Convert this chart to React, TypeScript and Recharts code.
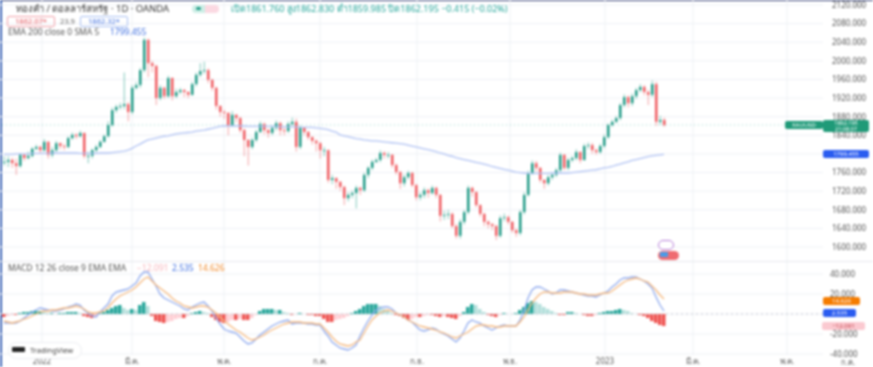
import React from 'react';
import {
    ComposedChart,
    Bar,
    Line,
    Cell,
    XAxis,
    YAxis,
    CartesianGrid,
    ReferenceLine
} from 'recharts';

const closes = [
    1783,1787,1780,1774,1798,1791,1796,1811,1815,1808,1826,1798,1808,1823,1817,1815,1834,1841,1838,1845,
    1796,1796,1808,1815,1826,1838,1862,1894,1901,1903,1907,1890,1942,1948,1980,2045,1995,1989,1920,1942,
    1924,1963,1924,1933,1937,1933,1927,1950,1970,1978,1980,1959,1942,1903,1890,1888,1862,1884,1877,1851,
    1830,1815,1830,1847,1864,1851,1845,1856,1866,1851,1849,1864,1869,1815,1856,1847,1836,1828,1823,1808,
    1808,1744,1748,1740,1729,1705,1712,1716,1727,1722,1755,1770,1783,1787,1802,1798,1798,1776,1761,1737,
    1750,1759,1733,1707,1712,1722,1716,1727,1712,1667,1669,1671,1645,1624,1654,1675,1727,1718,1690,1671,
    1654,1649,1645,1624,1662,1664,1654,1636,1630,1675,1712,1759,1780,1770,1744,1737,1750,1755,1765,1798,
    1770,1787,1791,1804,1787,1817,1819,1808,1804,1817,1836,1862,1869,1877,1905,1922,1909,1924,1937,1944,
    1933,1927,1950,1869,1873,1862
];
const highs = [
    1795,1795,1792,1790,1802,1800,1805,1815,1820,1818,1832,1828,1815,1828,1825,1822,1838,1846,1845,1850,
    1846,1805,1812,1820,1830,1842,1870,1900,1906,1910,1975,1912,1948,1955,1985,2050,2048,2000,1992,1948,
    1945,1968,1965,1940,1942,1940,1935,1955,1975,1995,1998,1984,1962,1945,1905,1895,1890,1892,1886,1880,
    1855,1832,1835,1852,1870,1868,1855,1862,1872,1870,1858,1870,1878,1876,1862,1858,1850,1838,1832,1826,
    1815,1810,1755,1750,1742,1732,1718,1722,1732,1730,1760,1774,1788,1792,1808,1806,1804,1800,1780,1764,
    1756,1764,1762,1736,1718,1728,1726,1732,1730,1714,1678,1680,1675,1650,1660,1680,1732,1730,1720,1692,
    1674,1658,1652,1648,1668,1672,1668,1656,1640,1680,1718,1764,1786,1785,1772,1746,1755,1760,1770,1803,
    1800,1792,1796,1810,1806,1822,1825,1824,1812,1822,1842,1866,1874,1882,1910,1928,1926,1930,1942,1950,
    1948,1938,1958,1955,1882,1878
];
const lows = [
    1775,1772,1770,1755,1770,1785,1788,1792,1808,1800,1804,1790,1792,1804,1810,1808,1812,1830,1832,1835,
    1790,1780,1790,1803,1812,1824,1835,1858,1888,1895,1896,1870,1885,1938,1942,1975,1965,1975,1905,1915,
    1918,1920,1915,1920,1928,1922,1920,1925,1945,1965,1972,1952,1935,1895,1880,1875,1840,1858,1868,1845,
    1795,1775,1810,1825,1845,1842,1835,1840,1850,1840,1840,1845,1860,1805,1810,1840,1830,1820,1805,1790,
    1795,1738,1735,1725,1720,1690,1698,1705,1683,1712,1718,1748,1765,1780,1782,1790,1790,1770,1755,1725,
    1730,1745,1728,1700,1700,1705,1706,1712,1705,1655,1658,1660,1640,1618,1618,1648,1670,1708,1685,1665,
    1645,1640,1636,1615,1620,1655,1648,1630,1622,1625,1670,1708,1755,1762,1738,1725,1732,1744,1750,1760,
    1765,1765,1782,1786,1780,1785,1810,1800,1798,1800,1812,1832,1858,1866,1872,1900,1900,1903,1918,1932,
    1926,1905,1922,1860,1862,1858
];
const ema200 = [
    1799,1799,1799,1800,1800,1800,1800,1801,1801,1801,1801,1801,1802,1802,1802,1802,1802,1802,1802,1801,
    1801,1801,1801,1801,1802,1802,1802,1803,1804,1805,1806,1808,1812,1817,1821,1826,1830,1832,1834,1836,
    1838,1839,1841,1843,1844,1845,1846,1847,1849,1850,1851,1853,1855,1857,1859,1860,1860,1860,1860,1860,
    1860,1859,1859,1859,1859,1859,1859,1859,1859,1858,1858,1858,1858,1858,1857,1857,1857,1857,1856,1855,
    1854,1852,1849,1847,1841,1839,1837,1835,1833,1832,1830,1829,1828,1828,1827,1826,1825,1824,1823,1822,
    1821,1819,1817,1815,1813,1811,1809,1807,1805,1802,1800,1797,1795,1792,1790,1788,1786,1784,1782,1780,
    1778,1776,1773,1771,1769,1767,1765,1763,1761,1760,1759,1758,1758,1758,1758,1758,1758,1759,1759,1759,
    1759,1759,1760,1761,1762,1763,1764,1765,1766,1768,1770,1771,1773,1776,1778,1781,1783,1786,1788,1790,
    1792,1794,1796,1797,1798,1799
];
const macdLine = [
    -9,-9,-9,-9,-7,-4,-1,2,4,6,5,4,3,3,4,5,7,8,10,9,
    4,1,-2,-3,2,6,10,18,22,23,24,25,28,31,38,42,42,35,28,20,
    16,14,12,10,8,5,4,7,9,11,12,8,3,-4,-10,-15,-17,-18,-19,-23,
    -27,-30,-29,-25,-21,-18,-15,-12,-10,-8,-7,-6,-10,-9,-9,-9,-10,-10,-11,-11,
    -17,-22,-28,-31,-34,-35,-36,-34,-31,-22,-14,-7,-1,4,6,7,7,5,1,-1,
    -3,-6,-8,-12,-16,-17,-16,-14,-15,-18,-20,-22,-25,-28,-24,-17,-9,-6,-8,-9,
    -12,-14,-16,-14,-12,-11,-12,-12,-12,-6,3,16,24,27,27,25,23,20,21,24,
    24,23,22,21,20,19,18,18,17,19,21,23,27,30,34,36,36,37,37,35,
    33,30,26,17,9,3
];
const signalLine = [
    -7,-8,-9,-8,-7,-5,-4,-2,0,2,3,3,4,4,5,6,6,7,8,7,
    5,2,1,1,2,3,6,11,15,18,20,22,24,27,31,35,37,33,29,26,
    23,20,16,13,11,8,7,6,7,8,8,7,4,1,-3,-7,-10,-13,-16,-18,
    -21,-24,-26,-25,-23,-21,-18,-16,-14,-12,-10,-9,-8,-8,-8,-9,-9,-9,-10,-10,
    -14,-18,-23,-27,-30,-31,-32,-31,-28,-26,-19,-12,-6,-2,1,3,4,3,1,-1,
    -3,-6,-8,-10,-12,-13,-14,-15,-16,-18,-19,-21,-23,-24,-22,-20,-18,-15,-12,-11,
    -11,-12,-12,-13,-13,-12,-12,-12,-12,-8,-3,4,11,16,20,22,22,21,21,21,
    22,22,22,21,20,20,19,19,19,20,21,21,23,26,29,32,34,35,36,35,
    33,32,28,24,19,15
];
const histValues = [
    -3,-2,-1,-1,1,2,2,3,3,3,2,1,1,0,1,1,2,2,2,1,
    -2,-3,-4,-3,1,2,4,6,8,9,6,4,5,4,9,12,8,-2,-7,-8,
    -9,-8,-7,-5,-4,-4,-2,1,2,3,2,1,-3,-6,-8,-9,-8,-6,-6,-5,
    -6,-6,-4,-1,3,5,5,5,4,4,2,1,-1,0,1,0,-1,-1,-2,-2,
    -5,-8,-8,-6,-5,-4,-2,1,3,5,8,10,10,10,8,5,3,1,-1,-2,
    -4,-6,-5,-3,-3,-2,-1,-1,-2,-3,-2,-3,-4,-5,-2,2,7,10,9,5,
    2,-1,-2,-3,-1,1,0,0,1,4,7,11,13,12,10,7,5,3,1,-1,
    -1,2,2,1,0,-1,-2,-2,-1,1,2,3,3,4,5,4,3,1,0,-1,
    -2,-4,-7,-9,-11,-12
];

const priceGrid = [2120,2080,2040,2000,1960,1920,1880,1840,1800,1760,1720,1680,1640,1600];
// 1800 sits behind the EMA tag on the price scale
const priceTicks = [2120,2080,2040,2000,1960,1920,1880,1840,1760,1720,1680,1640,1600];
const macdGrid = [40,20,0,-20,-40];
const macdTicks = [40,20,-20,-40];
const monthTicks = [9.5,32,55,79,103.25,126.5,150.25,172.25,195.75];
const monthLabels = ['2022','มี.ค.','พ.ค.','ก.ค.','ก.ย.','พ.ย.','2023','มี.ค.','พ.ค.'];

const LAST_PRICE = 1862.195;
const WIDTH = 873;
const AXIS_W = 50;
const X_DOMAIN: [number, number] = [-1, 204.75];

const candleData = closes.map((close, i) => ({
    idx: i,
    open: i === 0 ? close : closes[i - 1],
    close,
    range: [lows[i], highs[i]],
    ema: ema200[i]
}));

const macdData = closes.map((_, i) => ({
    idx: i,
    macd: macdLine[i],
    signal: signalLine[i],
    hist: histValues[i]
}));

const histColor = (i: number) => {
    const v = histValues[i];
    const prev = i === 0 ? 0 : histValues[i - 1];
    if (v >= 0) return v >= prev ? '#26a69a' : '#b2dfdb';
    return v <= prev ? '#ef5350' : '#ffcdd2';
};

const Candle = (props: any) => {
    const { x, y, width, height, payload } = props;
    const [low, high] = payload.range;
    const perUnit = height / (high - low);
    const up = payload.close >= payload.open;
    const color = up ? '#1f9a85' : '#ef5b60';
    const bodyTop = y + (high - Math.max(payload.open, payload.close)) * perUnit;
    const bodyH = Math.max(1, Math.abs(payload.close - payload.open) * perUnit);
    const mid = x + width / 2;
    return (
        <g>
            <line x1={mid} x2={mid} y1={y} y2={y + height} stroke={color} strokeOpacity={0.55} strokeWidth={1} />
            <rect x={x} y={bodyTop} width={width} height={bodyH} fill={color} />
        </g>
    );
};

const tag = (left: number, top: number, w: number, h: number, bg: string, color: string, text: string) => (
    <div style={{
        position: 'absolute', left, top, width: w, height: h, background: bg, color, borderRadius: 2,
        fontSize: 6, lineHeight: `${h}px`, textAlign: 'center'
    }}>{text}</div>
);

const label = (left: number, top: number, color: string, text: string, size = 8) => (
    <div style={{ position: 'absolute', left, top, color, fontSize: size, lineHeight: '10px', whiteSpace: 'nowrap' }}>{text}</div>
);

export default function App() {
    return (
        <div style={{
            position: 'fixed', left: 0, top: 0, width: WIDTH, height: 367, background: '#fff', overflow: 'hidden',
            fontFamily: '"Noto Sans", Roboto, sans-serif', filter: 'blur(0.8px)'
        }}>
            <div style={{ position: 'absolute', left: 0, top: 0, width: WIDTH, height: 1, background: '#27336b' }} />
            <div style={{ position: 'absolute', left: 0, top: 0, width: 2, height: 367, background: '#3a62b4' }} />

            <div style={{ position: 'absolute', left: 0, top: 0 }}>
                <ComposedChart width={WIDTH} height={262} data={candleData} margin={{ top: 0, right: 0, bottom: 0, left: 0 }}>
                    <CartesianGrid stroke="#eef1f6" verticalValues={monthTicks} horizontalValues={priceGrid} />
                    <XAxis dataKey="idx" type="number" domain={X_DOMAIN} ticks={monthTicks} hide allowDataOverflow />
                    <YAxis
                        orientation="right"
                        width={AXIS_W}
                        domain={[1567.8, 2130.7]}
                        ticks={priceTicks}
                        interval={0}
                        allowDataOverflow
                        axisLine={false}
                        tickLine={false}
                        tickMargin={3}
                        tick={{ fontSize: 8, fill: '#555' }}
                        tickFormatter={(v: number) => v.toFixed(3)}
                    />
                    <ReferenceLine y={LAST_PRICE} stroke="#26a69a" strokeOpacity={0.5} strokeDasharray="1 3" />
                    <Bar dataKey="range" barSize={2.5} shape={Candle} isAnimationActive={false} />
                    <Line dataKey="ema" stroke="#b0c2f3" strokeWidth={1.3} dot={false} activeDot={false} isAnimationActive={false} />
                </ComposedChart>
            </div>

            <div style={{ position: 'absolute', left: 0, top: 262 }}>
                <ComposedChart width={WIDTH} height={105} data={macdData} margin={{ top: 0, right: 0, bottom: 0, left: 0 }}>
                    <CartesianGrid stroke="#eef1f6" verticalValues={monthTicks} horizontalValues={macdGrid} />
                    <XAxis
                        dataKey="idx"
                        type="number"
                        domain={X_DOMAIN}
                        ticks={monthTicks}
                        interval={0}
                        allowDataOverflow
                        height={12}
                        axisLine={false}
                        tickLine={false}
                        tickMargin={0}
                        tick={{ fontSize: 8, fill: '#555', dy: -3 }}
                        tickFormatter={(v: number) => monthLabels[monthTicks.indexOf(v)]}
                    />
                    <YAxis
                        orientation="right"
                        width={AXIS_W}
                        domain={[-41, 52]}
                        ticks={macdTicks}
                        interval={0}
                        allowDataOverflow
                        axisLine={false}
                        tickLine={false}
                        tickMargin={1}
                        tick={{ fontSize: 8, fill: '#555' }}
                        tickFormatter={(v: number) => v.toFixed(3)}
                    />
                    <ReferenceLine y={0} stroke="#c9ccd3" strokeDasharray="2 3" />
                    <Bar dataKey="hist" barSize={3.5} isAnimationActive={false}>
                        {macdData.map((entry) => (
                            <Cell key={`hist-${entry.idx}`} fill={histColor(entry.idx)} />
                        ))}
                    </Bar>
                    <Line dataKey="macd" stroke="#8ea9ee" strokeWidth={1.3} dot={false} activeDot={false} isAnimationActive={false} />
                    <Line dataKey="signal" stroke="#f5b87e" strokeWidth={1.3} dot={false} activeDot={false} isAnimationActive={false} />
                </ComposedChart>
            </div>

            <div style={{ position: 'absolute', left: 0, top: 261, width: WIDTH, height: 1, background: '#e6e8ee' }} />

            {label(16, 4, '#333', 'ทองคำ / ดอลลาร์สหรัฐ · 1D · OANDA', 9.5)}
            <div style={{ position: 'absolute', left: 192, top: 5, width: 13, height: 8, background: '#cdeee6', borderRadius: '5px 0 0 5px' }} />
            <div style={{ position: 'absolute', left: 205, top: 5, width: 14, height: 8, background: '#fbd9e2', borderRadius: '0 5px 5px 0' }} />
            <div style={{ position: 'absolute', left: 196, top: 7, width: 5, height: 3, background: '#1f9a85', borderRadius: 2 }} />
            {label(231, 4, '#26a69a', 'เปิด1861.760 สูง1862.830 ต่ำ1859.985 ปิด1862.195 −0.415 (−0.02%)', 9)}

            <div style={{ position: 'absolute', left: 7, top: 16, width: 46, height: 9, border: '1px solid #f2a0a8', borderRadius: 2, color: '#e5535b', fontSize: 7.5, lineHeight: '9px', textAlign: 'center' }}>1862.07*</div>
            {label(60, 16, '#666', '23.9', 7.5)}
            <div style={{ position: 'absolute', left: 80, top: 16, width: 46, height: 9, border: '1px solid #a9c0f2', borderRadius: 2, color: '#3f6fe0', fontSize: 7.5, lineHeight: '9px', textAlign: 'center' }}>1862.32*</div>
            {label(8, 27, '#555', 'EMA 200 close 0 SMA 5', 8.5)}
            {label(110, 27, '#3f6fe0', '1799.455', 8.5)}

            {label(8, 263, '#555', 'MACD 12 26 close 9 EMA EMA', 8.5)}
            {label(137, 263, '#f7b6bc', '−12.091', 8.5)}
            {label(172, 263, '#3f6fe0', '2.535', 8.5)}
            {label(198, 263, '#f08a2c', '14.626', 8.5)}

            <div style={{ position: 'absolute', left: 8, top: 342, width: 72, height: 15, border: '1px solid #eceef2', borderRadius: 9, background: '#fff' }} />
            <div style={{ position: 'absolute', left: 12, top: 347, width: 13, height: 5, background: '#222', borderRadius: 1 }} />
            {label(30, 345, '#444', 'TradingView', 7.5)}
            {label(841, 357, '#555', 'ก.ค.', 7.5)}

            <div style={{ position: 'absolute', left: 658, top: 240, width: 14, height: 8, border: '1px solid #b57bd8', borderRadius: 6, background: '#fff' }} />
            <div style={{ position: 'absolute', left: 658, top: 251, width: 21, height: 9, background: '#ef6b70', borderRadius: 6 }} />
            <div style={{ position: 'absolute', left: 660, top: 252, width: 8, height: 5, background: '#4a9be8' }} />

            {tag(785, 121, 38, 8, '#1f9a78', '#fff', 'XAUUSD')}
            <div style={{ position: 'absolute', left: 823, top: 120, width: 46, height: 12, background: '#1f9a78', color: '#fff', borderRadius: 2, fontSize: 5.5, lineHeight: '6px', textAlign: 'center' }}>
                1862.195<br />21:08:37
            </div>
            {tag(823, 150, 46, 8, '#2a5cf0', '#fff', '1799.455')}
            {tag(823, 297, 37, 8, '#f57c00', '#fff', '14.626')}
            {tag(823, 309, 33, 8, '#2a5cf0', '#fff', '2.535')}
            {tag(822, 322, 43, 8, '#fbc9d0', '#c2444c', '−12.091')}
        </div>
    );
}
